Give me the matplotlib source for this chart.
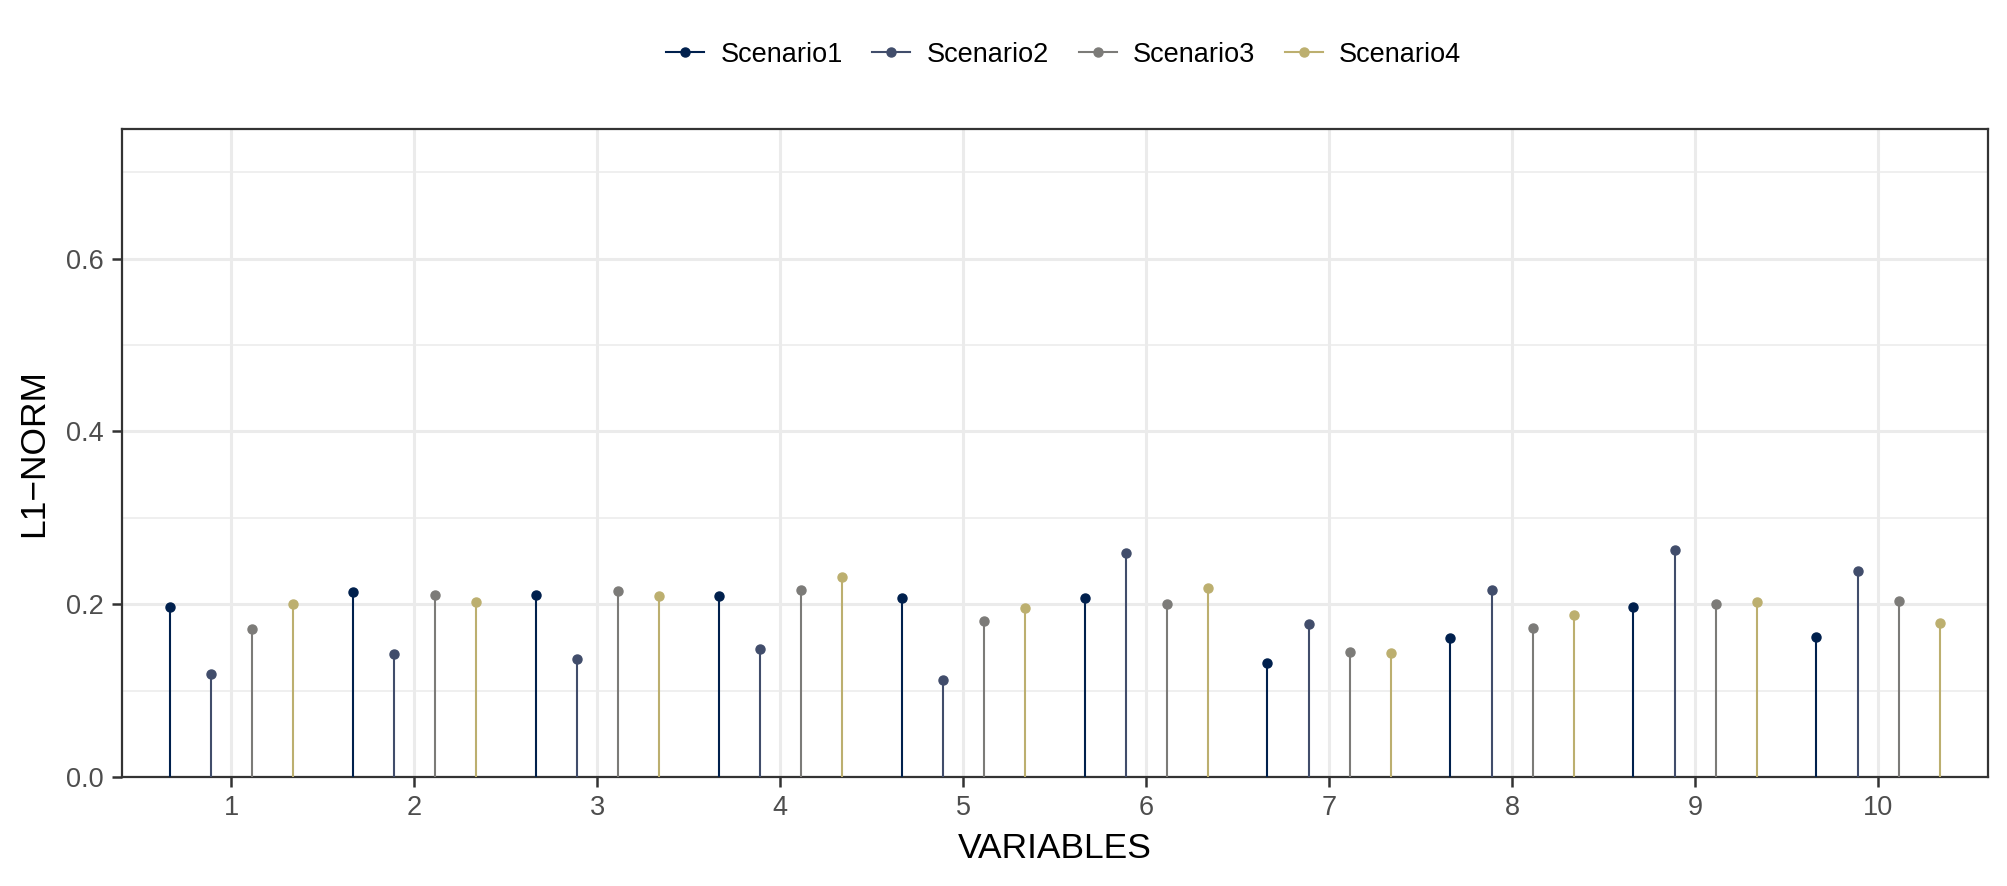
import numpy as np
import matplotlib.pyplot as plt
from matplotlib.lines import Line2D

plt.rcParams['font.family'] = ['Liberation Sans', 'DejaVu Sans']

# Data
variables = np.arange(1, 11)
scenarios = ['Scenario1', 'Scenario2', 'Scenario3', 'Scenario4']
scenario1 = [0.197, 0.214, 0.211, 0.210, 0.207, 0.207, 0.132, 0.161, 0.197, 0.162]
scenario2 = [0.119, 0.142, 0.137, 0.148, 0.112, 0.259, 0.177, 0.216, 0.263, 0.238]
scenario3 = [0.171, 0.211, 0.215, 0.216, 0.180, 0.200, 0.145, 0.173, 0.200, 0.204]
scenario4 = [0.200, 0.203, 0.209, 0.232, 0.196, 0.219, 0.144, 0.188, 0.202, 0.178]
colors = ['#00204D', '#414D6B', '#7C7B78', '#BCAF6F']

values = [scenario1, scenario2, scenario3, scenario4]
offsets = [-0.3375, -0.1125, 0.1125, 0.3375]

fig = plt.figure(figsize=(20.07, 8.86), dpi=100)
ax = fig.add_axes([0.0606, 0.123, 0.9299, 0.7314])

for vals, off, col in zip(values, offsets, colors):
    x = variables + off
    ax.vlines(x, 0, vals, color=col, linewidth=1.5, zorder=3)
    ax.plot(x, vals, 'o', color=col, markersize=6.5, zorder=4)

ax.set_xlim(0.4, 10.6)
ax.set_ylim(0, 0.75)
ax.set_xticks(variables)
ax.set_yticks([0.0, 0.2, 0.4, 0.6])
ax.set_yticklabels(['0.0', '0.2', '0.4', '0.6'])
ax.set_yticks([0.1, 0.3, 0.5, 0.7], minor=True)

ax.grid(True, which='major', color='#EBEBEB', linewidth=2.2, zorder=0)
ax.grid(True, which='minor', axis='y', color='#EBEBEB', linewidth=1.1, zorder=0)
ax.set_axisbelow(True)

ax.tick_params(axis='both', which='major', length=7, width=1.8, color='#333333',
               labelsize=19.5, labelcolor='#4D4D4D', pad=6)
ax.tick_params(axis='both', which='minor', length=0)
for s in ax.spines.values():
    s.set_color('#333333')
    s.set_linewidth(1.6)

ax.set_xlabel('VARIABLES', fontsize=25.5, labelpad=8)
ax.set_ylabel('L1\u2212NORM', fontsize=25.5, labelpad=11)

handles = [Line2D([0], [0], color=c, linewidth=1.5, marker='o', markersize=6.5)
           for c in colors]
fig.legend(handles, scenarios, loc='center', bbox_to_anchor=(0.53, 0.938),
           ncol=4, frameon=False, fontsize=19.5, handlelength=1.4,
           handletextpad=0.6, columnspacing=1.1)

fig.savefig('out.png', dpi=100)
